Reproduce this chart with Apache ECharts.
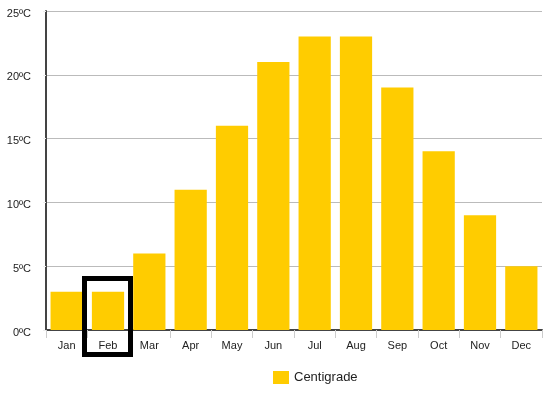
<!DOCTYPE html>
<html><head><meta charset="utf-8">
<script src="https://cdn.jsdelivr.net/npm/echarts@6/dist/echarts.min.js"></script>
<style>html,body{margin:0;padding:0;background:#fff}#c{width:548px;height:396px}</style>
</head><body><div id="c"></div>
<script>
var months = ['Jan','Feb','Mar','Apr','May','Jun','Jul','Aug','Sep','Oct','Nov','Dec'];
var centigrade = [3,3,6,11,16,21,23,23,19,14,9,5];
var yTicks = [0,5,10,15,20,25];
var highlighted = 'Feb';

var chart = echarts.init(document.getElementById('c'), null, {renderer:'canvas'});
var font = '"Liberation Sans", Arial, sans-serif';
chart.setOption({
  animation:false,
  textStyle:{fontFamily:font},
  grid:{left:46,right:6,top:11,bottom:66,containLabel:false},
  legend:{left:268,top:366,itemWidth:16,itemHeight:13,itemGap:6,icon:'rect',
    textStyle:{fontSize:13,color:'#222',fontFamily:font},data:['Centigrade']},
  xAxis:{type:'category',data:months,
    axisLine:{lineStyle:{color:'#444',width:2}},
    axisTick:{show:true,length:8,lineStyle:{color:'#ccc'}},
    axisLabel:{color:'#222',fontSize:11,margin:10,fontFamily:font}},
  yAxis:{type:'value',min:yTicks[0],max:yTicks[yTicks.length-1],interval:5,
    axisLine:{show:true,lineStyle:{color:'#444',width:2}},
    axisTick:{show:true,length:3,lineStyle:{color:'#eee'}},
    splitLine:{lineStyle:{color:'#bbb',width:1}},
    axisLabel:{color:'#222',fontSize:11,margin:15,fontFamily:font,verticalAlign:'top',lineHeight:11,padding:[-3,0,0,0],
      formatter:function(v){return v+'ºC';}}},
  series:[{name:'Centigrade',type:'bar',data:centigrade,barCategoryGap:'22%',
    itemStyle:{color:'#FFCC00'}}]
});
// highlight box around Feb
var idx = months.indexOf(highlighted);
var p0 = chart.convertToPixel({gridIndex:0},[idx,0]);
chart.setOption({graphic:[{type:'rect',shape:{x:p0[0]-23.5,y:p0[1]-51.5,width:46,height:76},
  style:{fill:'none',stroke:'#000',lineWidth:5},z:100}]});
</script></body></html>
